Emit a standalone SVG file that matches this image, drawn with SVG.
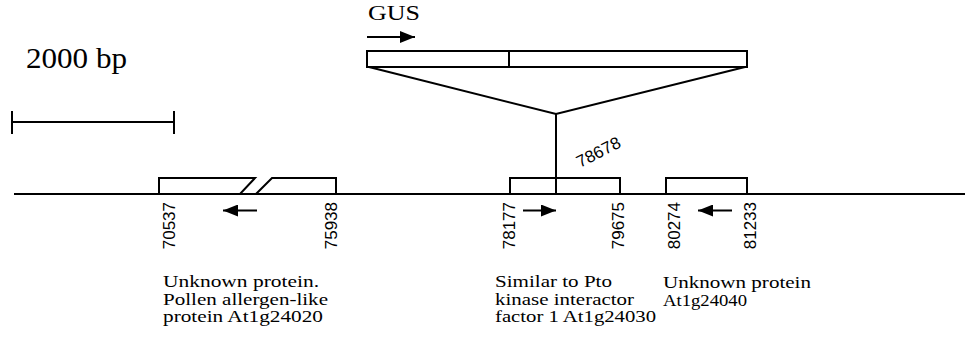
<svg xmlns="http://www.w3.org/2000/svg" width="965" height="347" viewBox="0 0 965 347">
<defs>
<style>
.ln{stroke:#000;stroke-width:2;fill:none}
.bx{stroke:#000;stroke-width:2;fill:#fff}
.ser{font-family:"Liberation Serif","Times New Roman",serif;fill:#000}
.num{font-family:"Liberation Sans",Arial,sans-serif;font-size:17px;fill:#000}
</style>
<marker id="ah" markerUnits="userSpaceOnUse" markerWidth="16" markerHeight="12" refX="15" refY="6" orient="auto">
<path d="M0,0 L15,6 L0,12 Z" fill="#000"/>
</marker>
</defs>
<rect width="965" height="347" fill="#fff"/>

<g id="scale">
<text class="ser" x="26" y="68" font-size="30" textLength="101" lengthAdjust="spacingAndGlyphs">2000 bp</text>
<line class="ln" x1="12" y1="122" x2="174" y2="122"/>
<line class="ln" x1="12" y1="111" x2="12" y2="134"/>
<line class="ln" x1="174" y1="111" x2="174" y2="134"/>
</g>

<g id="connectors">
<line class="ln" x1="14" y1="194" x2="965" y2="194"/>
<polyline class="ln" points="369,67 556,114 745,67"/>
<line class="ln" x1="556" y1="114" x2="556" y2="194"/>
<line class="ln" x1="367" y1="37" x2="415" y2="37" marker-end="url(#ah)"/>
<line class="ln" x1="257" y1="210.5" x2="223" y2="210.5" marker-end="url(#ah)"/>
<line class="ln" x1="523" y1="210.5" x2="556" y2="210.5" marker-end="url(#ah)"/>
<line class="ln" x1="732" y1="210.5" x2="698" y2="210.5" marker-end="url(#ah)"/>
</g>

<g id="gus">
<text class="ser" x="368" y="20" font-size="22" textLength="52" lengthAdjust="spacingAndGlyphs">GUS</text>
<rect class="bx" x="367" y="51" width="380" height="16"/>
<line class="ln" x1="509" y1="51" x2="509" y2="67"/>
</g>

<g id="gene1">
<polygon class="bx" points="159,178 255,178 240,194 159,194"/>
<polygon class="bx" points="272,178 336,178 336,194 256,194"/>
<text class="num" text-anchor="end" transform="translate(175,202) rotate(-90)">70537</text>
<text class="num" text-anchor="end" transform="translate(337,202) rotate(-90)">75938</text>
<text class="ser" font-size="17">
<tspan x="163" y="287" textLength="156" lengthAdjust="spacingAndGlyphs">Unknown protein.</tspan>
<tspan x="163" y="304.5" textLength="165" lengthAdjust="spacingAndGlyphs">Pollen allergen-like</tspan>
<tspan x="163" y="322" textLength="160" lengthAdjust="spacingAndGlyphs">protein At1g24020</tspan>
</text>
</g>

<g id="gene2">
<rect class="bx" x="510" y="178" width="110" height="16"/>
<line class="ln" x1="556" y1="178" x2="556" y2="194"/>
<text class="num" text-anchor="end" transform="translate(515,202) rotate(-90)">78177</text>
<text class="num" text-anchor="end" transform="translate(624,202) rotate(-90)">79675</text>
<text class="num" font-size="18" transform="translate(580,168) rotate(-27)">78678</text>
<text class="ser" font-size="17">
<tspan x="495" y="287" textLength="117" lengthAdjust="spacingAndGlyphs">Similar to Pto</tspan>
<tspan x="495" y="304.5" textLength="139" lengthAdjust="spacingAndGlyphs">kinase interactor</tspan>
<tspan x="495" y="322" textLength="161" lengthAdjust="spacingAndGlyphs">factor 1 At1g24030</tspan>
</text>
</g>

<g id="gene3">
<rect class="bx" x="666" y="178" width="81" height="16"/>
<text class="num" text-anchor="end" transform="translate(680,202) rotate(-90)">80274</text>
<text class="num" text-anchor="end" transform="translate(756,202) rotate(-90)">81233</text>
<text class="ser" font-size="17">
<tspan x="663" y="288" textLength="148" lengthAdjust="spacingAndGlyphs">Unknown protein</tspan>
<tspan x="663" y="305.5" textLength="84" lengthAdjust="spacingAndGlyphs">At1g24040</tspan>
</text>
</g>
</svg>
